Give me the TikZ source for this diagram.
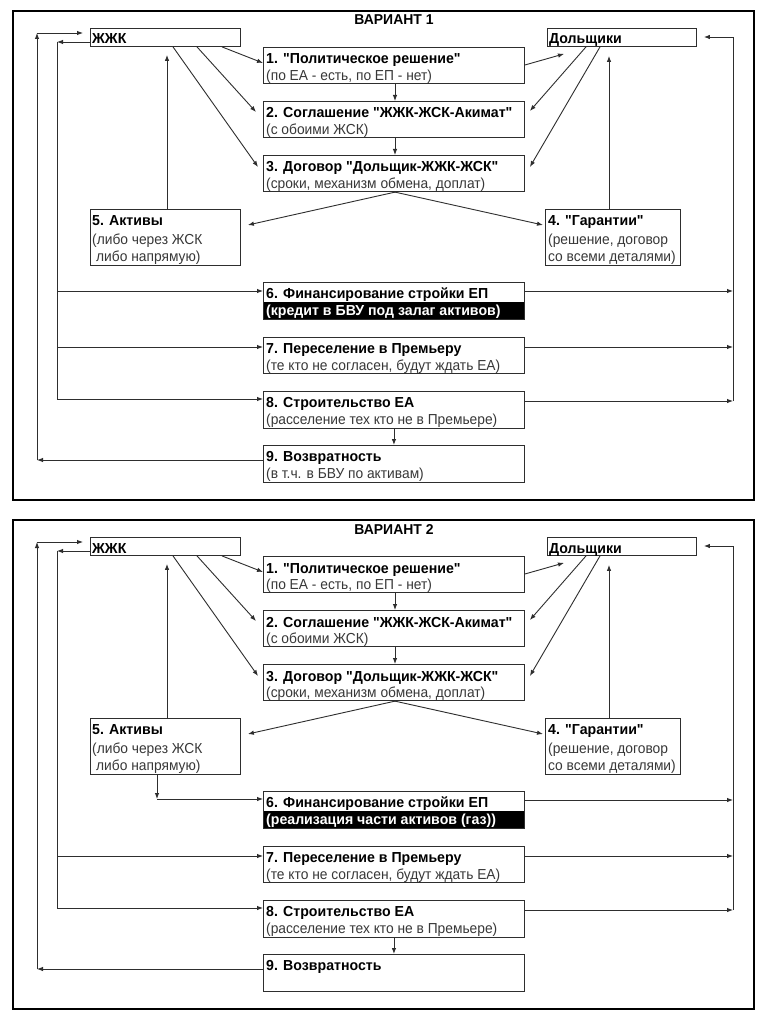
\documentclass[tikz,border=0pt]{standalone}
\usepackage{fontspec}
\setmainfont{Liberation Sans}[Ligatures=TeXOff, BoldFeatures={FakeStretch=0.975}]
\newfontfamily\regfont{Liberation Sans}[Ligatures=TeXOff, FakeStretch=0.95]
\usetikzlibrary{arrows.meta}
\definecolor{lc}{HTML}{2E2E2E}
\definecolor{tc}{HTML}{383838}
\tikzset{
  box/.style={draw=lc, line width=0.9pt, anchor=north west, inner sep=0pt, rectangle},
  frm/.style={draw=black, line width=2pt, anchor=north west, inner sep=0pt, rectangle},
  band/.style={fill=black, anchor=north west, inner sep=0pt, rectangle},
  bt/.style={anchor=base west, inner sep=0pt, font=\fontsize{14.5}{17}\selectfont\bfseries, text=black},
  rt/.style={anchor=base west, inner sep=0pt, font=\fontsize{14.5}{17}\regfont, text=tc},
  wt/.style={anchor=base west, inner sep=0pt, font=\fontsize{14.5}{17}\selectfont\bfseries, text=white},
  ttl/.style={anchor=base, inner sep=0pt, font=\fontsize{14.3}{17}\selectfont\bfseries, text=black},
  arr/.style={draw=lc, line width=0.9pt, -{Latex[length=6pt,width=4.5pt]}},
  conn/.style={draw=lc, line width=0.9pt},
}
% #1 prefix, #2 y offset, #3 title, #4 band text
\newcommand\mypanel[4]{%
\begin{scope}[yshift=-#2pt]
  \node[frm, minimum width=741pt, minimum height=489pt] (#1fr) at (12,10) {};
  \node[ttl] (#1ti) at (394,25) {#3};
  % boxes
  \node[box, minimum width=150pt, minimum height=18pt] (#1jk) at (90,28) {};
  \node[box, minimum width=149pt, minimum height=18pt] (#1dl) at (547,28) {};
  \node[box, minimum width=261pt, minimum height=36pt] (#1b1) at (263,47) {};
  \node[box, minimum width=261pt, minimum height=36pt] (#1b2) at (263,101) {};
  \node[box, minimum width=261pt, minimum height=36pt] (#1b3) at (263,155) {};
  \node[box, minimum width=150pt, minimum height=56pt] (#1b5) at (90,209) {};
  \node[box, minimum width=135pt, minimum height=56pt] (#1b4) at (545,209) {};
  \node[band, minimum width=261pt, minimum height=17pt] (#1bd) at (263,302) {};
  \node[box, minimum width=261pt, minimum height=37pt] (#1b6) at (263,282) {};
  \node[box, minimum width=261pt, minimum height=36pt] (#1b7) at (263,337) {};
  \node[box, minimum width=261pt, minimum height=37pt] (#1b8) at (263,391) {};
  \node[box, minimum width=261pt, minimum height=37pt] (#1b9) at (263,445) {};
  % texts
  \node[bt] (#1tjk) at (92,44) {ЖЖК};
  \node[bt] (#1tdl) at (549,44) {Дольщики};
  \node[bt] (#1t1a) at (266,64) {1. "Политическое решение"};
  \node[rt] (#1t1b) at (266,80.5) {(по ЕА - есть, по ЕП - нет)};
  \node[bt] (#1t2a) at (266,118) {2. Соглашение "ЖЖК-ЖСК-Акимат"};
  \node[rt] (#1t2b) at (266,134.5) {(с обоими ЖСК)};
  \node[bt] (#1t3a) at (266,172) {3. Договор "Дольщик-ЖЖК-ЖСК"};
  \node[rt] (#1t3b) at (266,188.5) {(сроки, механизм обмена, доплат)};
  \node[bt] (#1t5a) at (92,225.5) {5. Активы};
  \node[rt] (#1t5b) at (92,244) {(либо через ЖСК};
  \node[rt] (#1t5c) at (96,261.5) {либо напрямую)};
  \node[bt] (#1t4a) at (548,225.5) {4. "Гарантии"};
  \node[rt] (#1t4b) at (548,244) {(решение, договор};
  \node[rt] (#1t4c) at (548,261.5) {со всеми деталями)};
  \node[bt] (#1t6a) at (266,298) {6. Финансирование стройки ЕП};
  \node[wt] (#1t6b) at (266,315.5) {#4};
  \node[bt] (#1t7a) at (266,353) {7. Переселение в Премьеру};
  \node[rt] (#1t7b) at (266,370) {(те кто не согласен, будут ждать ЕА)};
  \node[bt] (#1t8a) at (266,407) {8. Строительство ЕА};
  \node[rt] (#1t8b) at (266,424.5) {(расселение тех кто не в Премьере)};
  \node[bt] (#1t9a) at (266,461) {9. Возвратность};
  % connectors among boxes
  \draw[arr] ([xshift=132pt]#1jk.south west) -- ([yshift=-16pt]#1b1.north west);
  \draw[arr] ([xshift=107pt]#1jk.south west) -- ([xshift=-7pt,yshift=-11pt]#1b2.north west);
  \draw[arr] ([xshift=83pt]#1jk.south west) -- ([xshift=-5pt,yshift=-12pt]#1b3.north west);
  \draw[arr] ([xshift=77pt]#1b5.north west) -- ([xshift=77pt,yshift=-8pt]#1jk.south west);
  \draw[arr] ([xshift=132pt]#1b1.south west) -- ([xshift=132pt]#1b2.north west);
  \draw[arr] ([xshift=132pt]#1b2.south west) -- ([xshift=132pt]#1b3.north west);
  \draw[arr] ([xshift=133pt]#1b3.south west) -- ([xshift=7pt,yshift=-16pt]#1b5.north east);
  \draw[arr] ([xshift=131pt]#1b3.south west) -- ([xshift=-2pt,yshift=-16pt]#1b4.north west);
  \draw[arr] ([yshift=-18pt]#1b1.north east) -- ([xshift=17pt,yshift=-7pt]#1dl.south west);
  \draw[arr] ([xshift=39pt]#1dl.south west) -- ([xshift=5pt,yshift=-10pt]#1b2.north east);
  \draw[arr] ([xshift=53pt]#1dl.south west) -- ([xshift=5pt,yshift=-12pt]#1b3.north east);
  \draw[arr] ([xshift=64pt]#1b4.north west) -- ([xshift=62pt,yshift=-9pt]#1dl.south west);
  \draw[arr] (#1b8.south) -- (#1b9.north);
  % loop points
  \coordinate (#1li) at (57,42);
  \coordinate (#1l7) at (57,347);
  \coordinate (#1l8) at (57,399);
  \coordinate (#1ot) at (37,33);
  \coordinate (#1ob) at (37,460);
  \coordinate (#1rt) at (733,37);
  \coordinate (#1r6) at (733,291);
  \coordinate (#1r7) at (733,347);
  \coordinate (#1r8) at (733,401);
  % left loops
  \draw[arr] (#1li -| #1jk.west) -- (#1li);
  \draw[conn] (#1li) -- (#1l8);
  \draw[arr] (#1l7) -- (#1l7 -| #1b7.west);
  \draw[arr] (#1l8) -- (#1l8 -| #1b8.west);
  \draw[arr] (#1ob -| #1b9.west) -- (#1ob);
  \draw[arr] (#1ob) -- (#1ot);
  \draw[arr, shorten >=7pt] (#1ot) -- (#1ot -| #1jk.west);
  % right loop
  \draw[arr] (#1r6 -| #1b6.east) -- (#1r6);
  \draw[arr] (#1r7 -| #1b7.east) -- (#1r7);
  \draw[arr] (#1r8 -| #1b8.east) -- (#1r8);
  \draw[conn] (#1r8) -- (#1rt);
  \draw[arr, shorten >=7pt] (#1rt) -- (#1rt -| #1dl.east);
\end{scope}}

\begin{document}
\begin{tikzpicture}[x=1pt,y=-1pt]
  \useasboundingbox[fill=white] (0,0) rectangle (768,1024);
  \mypanel{p1}{0}{ВАРИАНТ 1}{(кредит в БВУ под залаг активов)}
  \mypanel{p2}{509}{ВАРИАНТ 2}{(реализация части активов (газ))}
  \begin{scope}[yshift=-0pt]
    \node[rt] (p1t9b) at (266,478.5) {(в т.ч. в БВУ по активам)};
    \coordinate (p1l6) at (57,291);
    \draw[arr] (p1l6) -- (p1l6 -| p1b6.west);
  \end{scope}
  \begin{scope}[yshift=-509pt]
    \coordinate (p2k) at (157,290);
    \draw[arr] (p2k |- p2b5.south) -- (p2k);
    \draw[arr] (p2k) -- (p2k -| p2b6.west);
  \end{scope}
\end{tikzpicture}
\end{document}
